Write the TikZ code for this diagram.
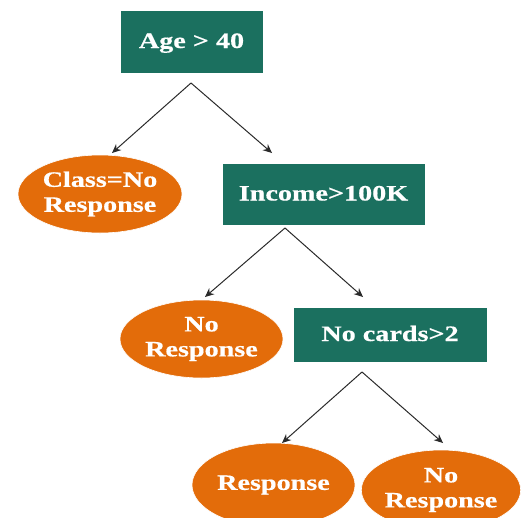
\documentclass[tikz,border=0pt]{standalone}
\usepackage{fontspec}
\newfontfamily\lblfont[FakeStretch=1.28,BoldFeatures={FakeBold=0.6}]{Liberation Serif}
\usetikzlibrary{shapes.geometric,arrows.meta}
\definecolor{boxgreen}{HTML}{1B705F}
\definecolor{leaforange}{HTML}{E36C0A}
\definecolor{linegray}{HTML}{2A2A2A}
\tikzset{
  x=1pt,y=1pt,
  lbl/.style={text=white,font=\lblfont\bfseries\fontsize{22}{25}\selectfont,align=center,inner sep=0pt},
  testbox/.style={lbl,rectangle,fill=boxgreen,draw=white,line width=0.6pt,text height=15pt,text depth=2pt},
  leaf/.style={lbl,ellipse,fill=leaforange,draw=white,line width=0.6pt},
  edge/.style={draw=linegray,line width=1pt,-{Stealth[length=9pt,width=8pt]}}
}
\begin{document}
\begin{tikzpicture}
\useasboundingbox (0,0) rectangle (521,-517);
\clip (0,0) rectangle (521,-517);
\node[testbox,minimum width=143,minimum height=63] (age) at (191.5,-41.5) {Age > 40};
\node[leaf,minimum width=164,minimum height=78] (class) at (100,-194) {Class=No\\Response};
\node[testbox,minimum width=203,minimum height=62] (income) at (323.5,-194) {Income>100K};
\node[leaf,minimum width=163,minimum height=78] (nor1) at (201.5,-339) {No\\Response};
\node[testbox,minimum width=194,minimum height=55] (cards) at (390,-334.5) {No cards>2};
\node[leaf,minimum width=163,minimum height=84] (resp) at (273.5,-485) {Response};
\node[leaf,minimum width=152,minimum height=80] (nor2) at (441,-490) {No\\Response};
\coordinate (s1) at (191,-83);
\coordinate (t1l) at (112,-153);
\coordinate (t1r) at (272,-153);
\coordinate (s2) at (285,-228);
\coordinate (t2l) at (205,-297);
\coordinate (t2r) at (363,-297);
\coordinate (s3) at (362,-372);
\coordinate (t3l) at (282,-443);
\coordinate (t3r) at (443,-443);
\draw[edge] (s1) -- (t1l);
\draw[edge] (s1) -- (t1r);
\draw[edge] (s2) -- (t2l);
\draw[edge] (s2) -- (t2r);
\draw[edge] (s3) -- (t3l);
\draw[edge] (s3) -- (t3r);
\end{tikzpicture}
\end{document}
